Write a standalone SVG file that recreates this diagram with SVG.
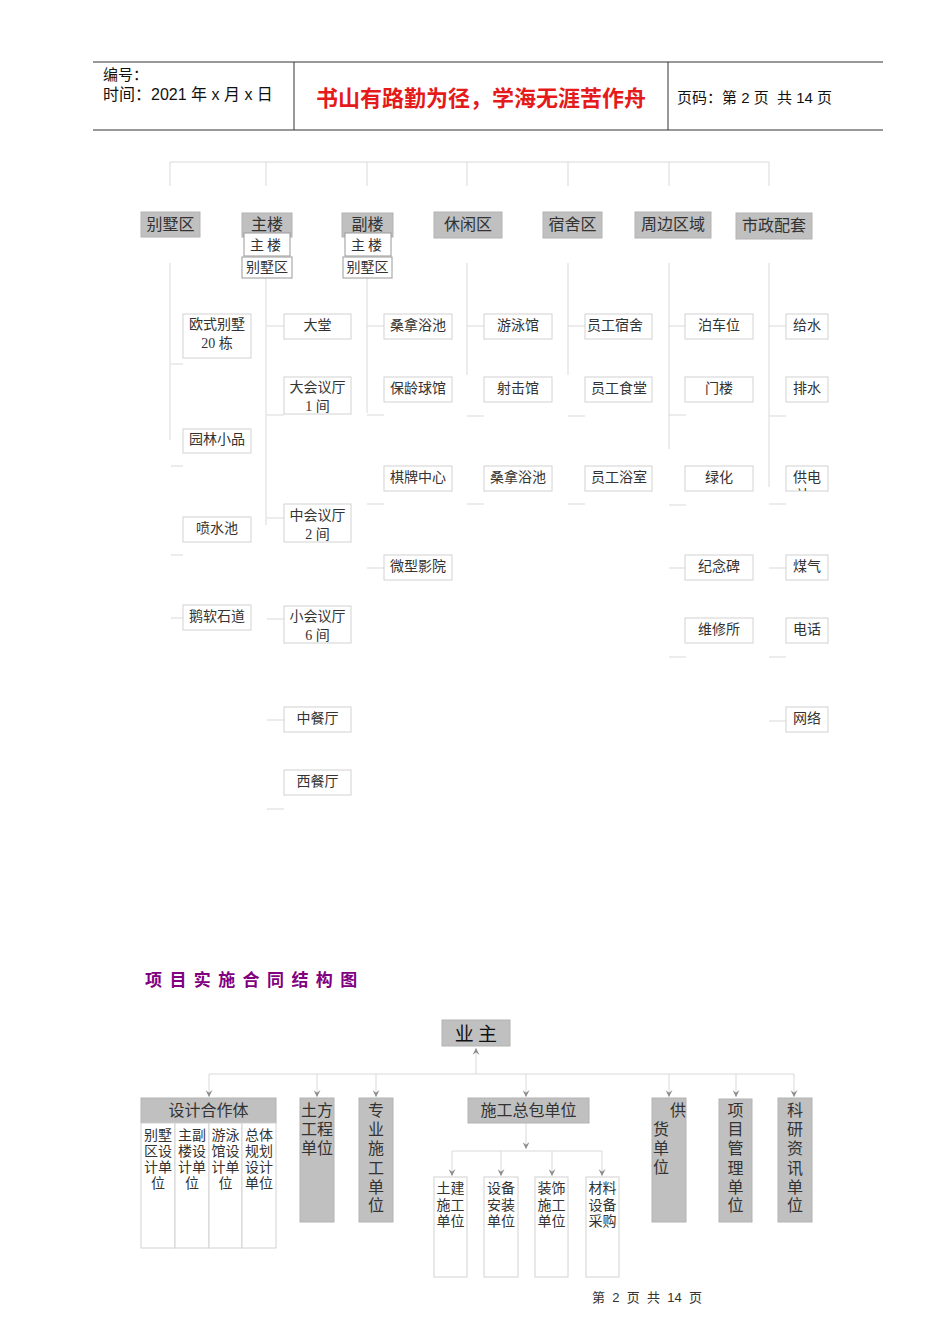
<svg xmlns="http://www.w3.org/2000/svg" width="950" height="1344" viewBox="0 0 950 1344">
<style>
.hl{stroke:#333;stroke-width:1;fill:none}
.ln{stroke:#d9d9d9;stroke-width:1;fill:none}
.ar{stroke:#d9d9d9;stroke-width:1;fill:none;marker-end:url(#ah)}
.box{fill:#fff;stroke:#d2d2d2;stroke-width:1}
.sbox{fill:#fff;stroke:#999;stroke-width:1}
.gbox{fill:#c0c0c0;stroke:#b3b3b3;stroke-width:1}
.t{font-family:"Liberation Serif","Noto Sans CJK SC",serif;font-size:14px;fill:#333;text-anchor:middle}
.tg{font-family:"Liberation Serif","Noto Sans CJK SC",serif;font-size:16px;fill:#333;text-anchor:middle}
.tb{font-family:"Liberation Serif","Noto Sans CJK SC",serif;font-size:16px;fill:#333;text-anchor:middle}
.hd{font-family:"Liberation Sans","Noto Sans CJK SC",sans-serif;fill:#111}
</style>
<defs>
<marker id="ah" viewBox="0 0 10 10" refX="10" refY="5" markerWidth="7" markerHeight="7" orient="auto" markerUnits="userSpaceOnUse">
<path d="M0,0 L10,5 L0,10 L4,5 z" fill="#8c8c8c"/>
</marker>
<clipPath id="c1"><rect x="543" y="212" width="59" height="26"/></clipPath>
<clipPath id="c2"><rect x="786" y="466" width="42" height="25"/></clipPath>
</defs>
<rect width="950" height="1344" fill="#fff"/>

<g id="header">
<line class="hl" x1="93" y1="62" x2="883" y2="62"/>
<line class="hl" x1="93" y1="130" x2="883" y2="130"/>
<line class="hl" x1="294" y1="62" x2="294" y2="130"/>
<line class="hl" x1="668" y1="62" x2="668" y2="130"/>
<text class="hd" x="103" y="80" font-size="15">编号：</text>
<text class="hd" x="103" y="100" font-size="16">时间：2021 年 x 月 x 日</text>
<text x="481" y="106" font-family="Noto Sans CJK SC,sans-serif" font-size="22" font-weight="bold" fill="#e51a1a" text-anchor="middle">书山有路勤为径，学海无涯苦作舟</text>
<text class="hd" x="677" y="103" font-size="15" xml:space="preserve">页码：第 2 页  共 14 页</text>
</g>

<g id="connectors-top">
<path class="ln" d="M170,162 H769 M170,162 V186 M266,162 V186 M367,162 V186 M467,162 V186 M568,162 V186 M669,162 V186 M769,162 V186"/>
<path class="ln" d="M170,263 V440 M266,263 V525 M367,263 V413 M467,263 V375 M568,263 V375 M669,263 V449 M769,263 V487"/>
<path class="ln" d="M171,364 H183 M171,466 H183 M171,555 H183 M171,618 H183"/>
<path class="ln" d="M267,326 H284 M267,415 H284 M267,518 H284 M267,619 H284 M267,720 H284 M267,809 H284"/>
<path class="ln" d="M367,326 H384 M367,415 H384 M367,504 H384 M367,568 H384"/>
<path class="ln" d="M467,326 H484 M467,416 H484 M467,504 H484"/>
<path class="ln" d="M568,326 H585 M568,416 H585 M568,504 H585"/>
<path class="ln" d="M669,326 H686 M669,415 H686 M669,505 H686 M669,568 H686 M669,657 H686"/>
<path class="ln" d="M769,326 H786 M769,416 H786 M769,504 H786 M769,568 H786 M769,657 H786 M769,721 H786"/>
</g>

<g id="cat-villa"><rect class="gbox" x="141" y="212" width="59" height="25"/><text class="tg" x="170.5" y="230">别墅区</text></g>
<g id="cat-main"><rect class="gbox" x="242" y="213" width="50" height="24"/><text class="tg" x="267" y="230">主楼</text>
<rect class="sbox" x="244" y="233" width="46" height="23"/><text class="t" x="267" y="250" letter-spacing="3">主楼</text>
<rect class="sbox" x="242" y="257" width="50" height="21"/><text class="t" x="267" y="272">别墅区</text></g>
<g id="cat-annex"><rect class="gbox" x="342" y="213" width="51" height="24"/><text class="tg" x="367.5" y="230">副楼</text>
<rect class="sbox" x="345" y="233" width="46" height="23"/><text class="t" x="368" y="250" letter-spacing="3">主楼</text>
<rect class="sbox" x="343" y="257" width="49" height="21"/><text class="t" x="367.5" y="272">别墅区</text></g>
<g id="cat-leisure"><rect class="gbox" x="434" y="212" width="68" height="26"/><text class="tg" x="468" y="230">休闲区</text></g>
<g id="cat-dorm"><rect class="gbox" x="543" y="212" width="59" height="26"/><text class="tg" x="572.5" y="230">宿舍区</text>
<text class="tg" x="572" y="251" clip-path="url(#c1)">区</text></g>
<g id="cat-around"><rect class="gbox" x="635" y="212" width="76" height="26"/><text class="tg" x="673" y="230">周边区域</text></g>
<g id="cat-muni"><rect class="gbox" x="736" y="213" width="76" height="26"/><text class="tg" x="774" y="231">市政配套</text></g>

<g id="col1">
<rect class="box" x="183" y="314" width="68" height="44"/><text class="t" x="217" y="329">欧式别墅</text><text class="t" x="217" y="348">20 栋</text>
<rect class="box" x="183" y="429" width="68" height="24"/><text class="t" x="217" y="444">园林小品</text>
<rect class="box" x="183" y="517" width="68" height="25"/><text class="t" x="217" y="533">喷水池</text>
<rect class="box" x="183" y="605" width="68" height="25"/><text class="t" x="217" y="621">鹅软石道</text>
</g>
<g id="col2">
<rect class="box" x="284" y="314" width="67" height="25"/><text class="t" x="317.5" y="330">大堂</text>
<rect class="box" x="284" y="377" width="67" height="37"/><text class="t" x="317.5" y="392">大会议厅</text><text class="t" x="317.5" y="411">1 间</text>
<rect class="box" x="284" y="504" width="67" height="38"/><text class="t" x="317.5" y="520">中会议厅</text><text class="t" x="317.5" y="539">2 间</text>
<rect class="box" x="284" y="606" width="67" height="37"/><text class="t" x="317.5" y="621">小会议厅</text><text class="t" x="317.5" y="640">6 间</text>
<rect class="box" x="284" y="707" width="67" height="25"/><text class="t" x="317.5" y="723">中餐厅</text>
<rect class="box" x="284" y="770" width="67" height="25"/><text class="t" x="317.5" y="786">西餐厅</text>
</g>
<g id="col3">
<rect class="box" x="384" y="314" width="68" height="25"/><text class="t" x="418" y="330">桑拿浴池</text>
<rect class="box" x="384" y="377" width="68" height="25"/><text class="t" x="418" y="393">保龄球馆</text>
<rect class="box" x="384" y="466" width="68" height="25"/><text class="t" x="418" y="482">棋牌中心</text>
<rect class="box" x="384" y="555" width="68" height="25"/><text class="t" x="418" y="571">微型影院</text>
</g>
<g id="col4">
<rect class="box" x="484" y="314" width="68" height="25"/><text class="t" x="518" y="330">游泳馆</text>
<rect class="box" x="484" y="377" width="68" height="25"/><text class="t" x="518" y="393">射击馆</text>
<rect class="box" x="484" y="466" width="68" height="25"/><text class="t" x="518" y="482">桑拿浴池</text>
</g>
<g id="col5">
<rect class="box" x="585" y="314" width="67" height="25"/><text class="t" x="615" y="330">员工宿舍</text>
<rect class="box" x="585" y="377" width="67" height="25"/><text class="t" x="619" y="393">员工食堂</text>
<rect class="box" x="585" y="466" width="67" height="25"/><text class="t" x="619" y="482">员工浴室</text>
</g>
<g id="col6">
<rect class="box" x="685" y="314" width="68" height="25"/><text class="t" x="719" y="330">泊车位</text>
<rect class="box" x="685" y="377" width="68" height="25"/><text class="t" x="719" y="393">门楼</text>
<rect class="box" x="685" y="466" width="68" height="25"/><text class="t" x="719" y="482">绿化</text>
<rect class="box" x="685" y="555" width="68" height="25"/><text class="t" x="719" y="571">纪念碑</text>
<rect class="box" x="685" y="618" width="68" height="25"/><text class="t" x="719" y="634">维修所</text>
</g>
<g id="col7">
<rect class="box" x="786" y="314" width="42" height="25"/><text class="t" x="807" y="330">给水</text>
<rect class="box" x="786" y="377" width="42" height="25"/><text class="t" x="807" y="393">排水</text>
<rect class="box" x="786" y="466" width="42" height="25"/><text class="t" x="807" y="482">供电</text><text class="t" x="803" y="500" clip-path="url(#c2)">站</text>
<rect class="box" x="786" y="555" width="42" height="25"/><text class="t" x="807" y="571">煤气</text>
<rect class="box" x="786" y="618" width="42" height="25"/><text class="t" x="807" y="634">电话</text>
<rect class="box" x="786" y="707" width="42" height="25"/><text class="t" x="807" y="723">网络</text>
</g>

<g id="title2"><text x="145" y="986" font-family="Noto Sans CJK SC,sans-serif" font-size="17" font-weight="bold" fill="#800080" letter-spacing="7.4">项目实施合同结构图</text></g>

<g id="connectors-bottom">
<path class="ln" d="M209,1074 H794"/>
<path class="ar" d="M476,1074 V1048"/>
<path class="ar" d="M209,1074 V1097"/>
<path class="ar" d="M317,1074 V1097"/>
<path class="ar" d="M376,1074 V1097"/>
<path class="ar" d="M526,1074 V1097"/>
<path class="ar" d="M669,1074 V1097"/>
<path class="ar" d="M736,1074 V1097"/>
<path class="ar" d="M794,1074 V1097"/>
<path class="ar" d="M526,1123 V1149"/>
<path class="ln" d="M452,1151 H602"/>
<path class="ar" d="M452,1151 V1176"/>
<path class="ar" d="M501,1151 V1176"/>
<path class="ar" d="M552,1151 V1176"/>
<path class="ar" d="M602,1151 V1176"/>
</g>

<g id="owner"><rect class="gbox" x="442" y="1020" width="68" height="26"/><text x="476" y="1041" font-family="Noto Sans CJK SC,sans-serif" font-size="19" fill="#111" text-anchor="middle">业 主</text></g>

<g id="design">
<rect class="gbox" x="141" y="1098" width="135" height="25"/><text class="tb" x="208.5" y="1116" font-size="17">设计合作体</text>
<rect class="box" x="141" y="1123" width="34" height="125"/>
<rect class="box" x="175" y="1123" width="34" height="125"/>
<rect class="box" x="209" y="1123" width="33" height="125"/>
<rect class="box" x="242" y="1123" width="34" height="125"/>
<text class="t" x="158" y="1140">别墅</text><text class="t" x="158" y="1156">区设</text><text class="t" x="158" y="1172">计单</text><text class="t" x="158" y="1188">位</text>
<text class="t" x="192" y="1140">主副</text><text class="t" x="192" y="1156">楼设</text><text class="t" x="192" y="1172">计单</text><text class="t" x="192" y="1188">位</text>
<text class="t" x="225.5" y="1140">游泳</text><text class="t" x="225.5" y="1156">馆设</text><text class="t" x="225.5" y="1172">计单</text><text class="t" x="225.5" y="1188">位</text>
<text class="t" x="259" y="1140">总体</text><text class="t" x="259" y="1156">规划</text><text class="t" x="259" y="1172">设计</text><text class="t" x="259" y="1188">单位</text>
</g>
<g id="earthwork"><rect class="gbox" x="300" y="1098" width="34" height="124"/>
<text class="tb" x="317" y="1116">土方</text><text class="tb" x="317" y="1135">工程</text><text class="tb" x="317" y="1154">单位</text></g>
<g id="special"><rect class="gbox" x="359" y="1098" width="34" height="124"/>
<text class="tb" x="376" y="1116">专</text><text class="tb" x="376" y="1135">业</text><text class="tb" x="376" y="1154">施</text><text class="tb" x="376" y="1174">工</text><text class="tb" x="376" y="1193">单</text><text class="tb" x="376" y="1211">位</text></g>
<g id="general"><rect class="gbox" x="468" y="1098" width="121" height="25"/><text class="tb" x="528.5" y="1116" font-size="17">施工总包单位</text></g>
<g id="sub1"><rect class="box" x="434" y="1177" width="33" height="100"/><text class="t" x="450.5" y="1193" font-size="15">土建</text><text class="t" x="450.5" y="1210" font-size="15">施工</text><text class="t" x="450.5" y="1226" font-size="15">单位</text></g>
<g id="sub2"><rect class="box" x="484" y="1177" width="34" height="100"/><text class="t" x="501" y="1193" font-size="15">设备</text><text class="t" x="501" y="1210" font-size="15">安装</text><text class="t" x="501" y="1226" font-size="15">单位</text></g>
<g id="sub3"><rect class="box" x="535" y="1177" width="33" height="100"/><text class="t" x="551.5" y="1193" font-size="15">装饰</text><text class="t" x="551.5" y="1210" font-size="15">施工</text><text class="t" x="551.5" y="1226" font-size="15">单位</text></g>
<g id="sub4"><rect class="box" x="586" y="1177" width="33" height="100"/><text class="t" x="602.5" y="1193" font-size="15">材料</text><text class="t" x="602.5" y="1210" font-size="15">设备</text><text class="t" x="602.5" y="1226" font-size="15">采购</text></g>
<g id="supply"><rect class="gbox" x="652" y="1098" width="34" height="124"/>
<text class="tb" x="678" y="1116">供</text><text class="tb" x="661" y="1135">货</text><text class="tb" x="661" y="1154">单</text><text class="tb" x="661" y="1173">位</text></g>
<g id="pm"><rect class="gbox" x="719" y="1099" width="33" height="123"/>
<text class="tb" x="735.5" y="1116">项</text><text class="tb" x="735.5" y="1135">目</text><text class="tb" x="735.5" y="1154">管</text><text class="tb" x="735.5" y="1174">理</text><text class="tb" x="735.5" y="1193">单</text><text class="tb" x="735.5" y="1211">位</text></g>
<g id="research"><rect class="gbox" x="778" y="1098" width="34" height="124"/>
<text class="tb" x="795" y="1116">科</text><text class="tb" x="795" y="1135">研</text><text class="tb" x="795" y="1154">资</text><text class="tb" x="795" y="1174">讯</text><text class="tb" x="795" y="1193">单</text><text class="tb" x="795" y="1211">位</text></g>

<g id="footer"><text x="647" y="1302" font-family="Liberation Sans,Noto Sans CJK SC,sans-serif" font-size="13" fill="#333" text-anchor="middle" xml:space="preserve">第  2  页  共  14  页</text></g>
</svg>
